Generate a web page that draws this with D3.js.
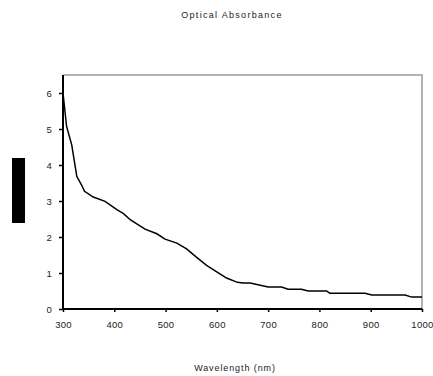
<!DOCTYPE html>
<html lang="en">
<head>
<meta charset="UTF-8">
<title>Optical Absorbance</title>
<script src="https://d3js.org/d3.v7.min.js"></script>
<style>
    body { margin: 0; background: #fff; }
    svg { display: block; }
    svg text { font-family: "Liberation Sans", Arial, sans-serif; fill: #222; }
    .tick text { font-size: 9.5px; letter-spacing: 0.3px; }
    .label { font-size: 9px; letter-spacing: 0.9px; }
    .title { letter-spacing: 1.3px; }
</style>
</head>
<body>
<svg width="433" height="376"></svg>
<script>
    // values
    const wavelength = [300, 307, 317, 327, 336, 342, 359, 382, 405, 418, 431, 460, 483, 499, 522,
        541, 560, 580, 599, 619, 640, 651, 665, 700, 726, 739, 765, 778, 814, 820, 889, 902, 967, 980, 1000];
    const absorbance = [6.0, 5.07, 4.56, 3.68, 3.45, 3.27, 3.11, 2.99, 2.76, 2.65, 2.48, 2.22, 2.09, 1.94, 1.83,
        1.67, 1.44, 1.21, 1.04, 0.86, 0.74, 0.72, 0.72, 0.61, 0.61, 0.55, 0.55, 0.50, 0.50, 0.44, 0.44, 0.39, 0.39, 0.33, 0.33];
    const xTicks = [300, 400, 500, 600, 700, 800, 900, 1000];
    const yTicks = [0, 1, 2, 3, 4, 5, 6];

    const svg = d3.select("svg");
    const plotL = 63, plotR = 422, plotT = 75, plotB = 309;

    const x = d3.scaleLinear().domain([300, 1000]).range([plotL, plotR]);
    const y = d3.scaleLinear().domain([0, 6.5]).range([plotB, plotT]);

    // title
    svg.append("text")
        .attr("class", "label title")
        .attr("x", 232).attr("y", 18)
        .attr("text-anchor", "middle")
        .text("Optical Absorbance");

    // redacted y label block
    svg.append("rect").attr("x", 12).attr("y", 158).attr("width", 13).attr("height", 65).attr("fill", "#000");

    // grey frame top/right
    svg.append("path")
        .attr("d", `M${plotL},${plotT}H${plotR}V${plotB}`)
        .attr("fill", "none").attr("stroke", "#999").attr("stroke-width", 1.5);

    const xAxis = svg.append("g")
        .attr("transform", `translate(0,${plotB})`)
        .call(d3.axisBottom(x).tickValues(xTicks).tickSize(3).tickPadding(9).tickFormat(d3.format("d")));
    xAxis.attr("font-family", null);
    xAxis.select(".domain").attr("stroke", "#000").attr("stroke-width", 2).attr("d", `M${plotL},0H${plotR}`);
    xAxis.selectAll(".tick line").attr("stroke-width", 1.5);

    const yAxis = svg.append("g")
        .attr("transform", `translate(${plotL},0)`)
        .call(d3.axisLeft(y).tickValues(yTicks).tickSize(4).tickPadding(7).tickFormat(d3.format("d")));
    yAxis.attr("font-family", null);
    yAxis.select(".domain").attr("stroke", "#000").attr("stroke-width", 2).attr("d", `M0,${plotT}V${plotB}`);
    yAxis.selectAll(".tick line").attr("stroke-width", 1.5);

    const line = d3.line()
        .x((d, i) => x(wavelength[i]))
        .y(d => y(d));

    svg.append("path")
        .datum(absorbance)
        .attr("d", line)
        .attr("fill", "none")
        .attr("stroke", "#000")
        .attr("stroke-width", 1.5);

    // x axis title
    svg.append("text")
        .attr("class", "label")
        .attr("x", 235).attr("y", 371)
        .attr("text-anchor", "middle")
        .text("Wavelength (nm)");
</script>
</body>
</html>
